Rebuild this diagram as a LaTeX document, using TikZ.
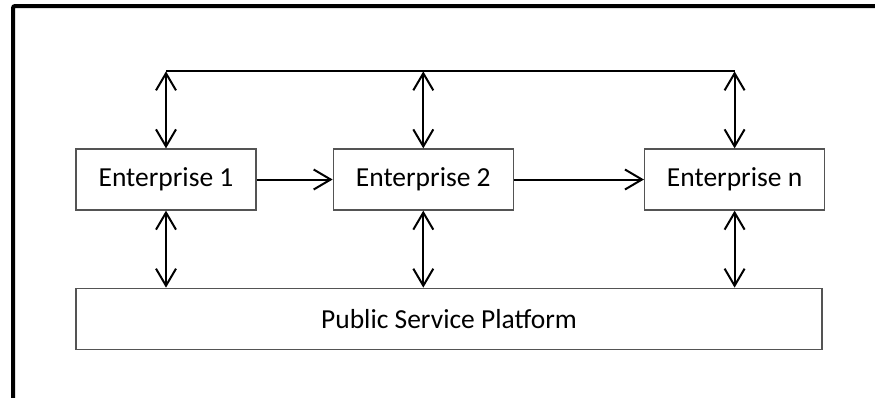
\documentclass[tikz,border=0pt]{standalone}
\usepackage{fontspec}
\setmainfont{Carlito}
\usetikzlibrary{positioning, arrows.meta}
\tikzset{>={Straight Barb[length=17pt,width=20pt]}, every node/.style={font=\fontsize{27.5}{33}\selectfont},
	firm/.style={draw=black!67, line width=1.3pt, minimum width=180pt, minimum height=61pt, inner sep=0pt},
	link/.style={<->, line width=2pt}, flow/.style={->, line width=2pt}}

\begin{document}
\begin{tikzpicture}[x=1pt, y=-1pt]
	\useasboundingbox (0,0) rectangle (875,397);
	\draw[line width=4pt, rounded corners=2pt] (13,6) rectangle (895,410);
	
	\node[firm] (E1) at (166,179.5) {Enterprise 1};
	\node[firm, right=76pt of E1] (E2) {Enterprise 2};
	\node[firm, right=130pt of E2] (En) {Enterprise n};
	\node[firm, minimum width=746pt, below=77pt of E1.south west, anchor=north west] (Platform) {Public Service Platform};
	
	\coordinate[above=77pt of E1.north] (t1);
	\coordinate[above=77pt of E2.north] (t2);
	\coordinate[above=77pt of En.north] (tn);
	
	\draw[line width=2pt] (t1) -- (tn);
	\draw	[link] (E1.north) -- (t1);
	\draw	[link] (E2.north) -- (t2);
	\draw	[link] (En.north) -- (tn);
	\draw	[flow] (E1) -- (E2);
	\draw	[flow] (E2) -- (En);
	\draw	[link] (E1.south) -- (E1.south |- Platform.north);
	\draw	[link] (E2.south) -- (E2.south |- Platform.north);
	\draw	[link] (En.south) -- (En.south |- Platform.north);
\end{tikzpicture}
\end{document}
